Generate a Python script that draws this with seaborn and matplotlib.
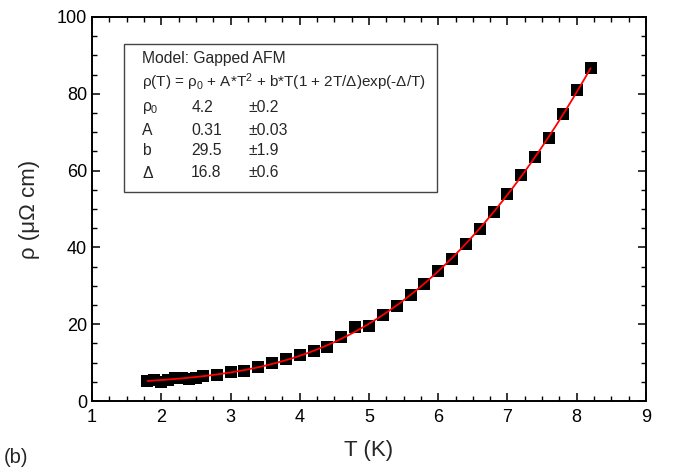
import numpy as np
import pandas as pd
import matplotlib
matplotlib.use("Agg")
import matplotlib.pyplot as plt
from matplotlib.patches import Rectangle
from matplotlib.ticker import MultipleLocator
import seaborn as sns

# Measured resistivity
temperature_K = [1.8, 1.9, 2.0, 2.1, 2.2, 2.3, 2.4, 2.5, 2.6, 2.8, 3.0, 3.2, 3.4,
                 3.6, 3.8, 4.0, 4.2, 4.4, 4.6, 4.8, 5.0, 5.2, 5.4, 5.6, 5.8, 6.0,
                 6.2, 6.4, 6.6, 6.8, 7.0, 7.2, 7.4, 7.6, 7.8, 8.0, 8.2]
resistivity = [5.3, 5.5, 4.9, 5.6, 5.9, 6.0, 5.8, 6.1, 6.4, 6.8, 7.5, 7.7, 8.8,
               9.8, 10.9, 12.0, 13.0, 14.1, 16.6, 19.2, 19.6, 22.4, 24.7, 27.7,
               30.6, 33.8, 37.1, 40.9, 44.8, 49.1, 53.9, 58.9, 63.6, 68.4, 74.7,
               81.0, 86.6]

# Fit parameters of the gapped antiferromagnon model
param_names = [r"$\rho_0$", "A", "b", r"$\Delta$"]
param_values = [4.2, 0.31, 29.5, 16.8]
param_errors = [0.2, 0.03, 1.9, 0.6]
value_labels = ["4.2", "0.31", "29.5", "16.8"]
error_labels = ["\u00b10.2", "\u00b10.03", "\u00b11.9", "\u00b10.6"]

sns.set_theme(style="ticks")
plt.rcParams["font.family"] = ["Liberation Sans", "DejaVu Sans"]
plt.rcParams["mathtext.fontset"] = "custom"
plt.rcParams["mathtext.rm"] = "Liberation Sans"
plt.rcParams["mathtext.it"] = "Liberation Sans"
plt.rcParams["mathtext.bf"] = "Liberation Sans:bold"

df = pd.DataFrame({"T": temperature_K, "rho": resistivity})

rho0, A, b, gap = param_values
t_fit = np.linspace(min(temperature_K), max(temperature_K), 300)
rho_fit = rho0 + A * t_fit**2 + b * t_fit * (1 + 2 * t_fit / gap) * np.exp(-gap / t_fit)
fit_df = pd.DataFrame({"T": t_fit, "rho": rho_fit})

fig = plt.figure(figsize=(6.78, 4.72), dpi=100)
ax = fig.add_axes([0.1357, 0.1504, 0.8171, 0.8136])

sns.scatterplot(data=df, x="T", y="rho", marker="s", s=70, color="black",
                edgecolor="black", linewidth=0, ax=ax, zorder=2)
sns.lineplot(data=fit_df, x="T", y="rho", color="red", linewidth=1.3, ax=ax,
             zorder=3)

ax.set_xlim(1, 9)
ax.set_ylim(0, 100)
ax.xaxis.set_major_locator(MultipleLocator(1))
ax.xaxis.set_minor_locator(MultipleLocator(0.25))
ax.yaxis.set_major_locator(MultipleLocator(20))
ax.yaxis.set_minor_locator(MultipleLocator(5))
ax.tick_params(which="both", direction="in", top=True, right=True,
               labelsize=13, colors="black")
ax.tick_params(which="major", length=6, width=1.1)
ax.tick_params(which="minor", length=3.5, width=1.0)
for sp in ax.spines.values():
    sp.set_linewidth(1.4)
    sp.set_color("black")
ax.tick_params(axis="x", pad=6)

ax.set_xlabel("T (K)", fontsize=16, labelpad=10)
ax.set_ylabel("\u03c1 (\u03bc\u03a9 cm)", fontsize=16, labelpad=12)

# Parameter box
ax.add_patch(Rectangle((0.058, 0.545), 0.565, 0.385, transform=ax.transAxes,
                       facecolor="white", edgecolor="#444444", linewidth=1.0,
                       zorder=4))
fs = 11.0
tx = 0.090
ax.text(tx, 0.892, "Model: Gapped AFM", transform=ax.transAxes, fontsize=fs + 0.3,
        va="center", zorder=5)
ax.text(tx, 0.829, r"$\rho$(T) = $\rho_0$ + A*T$^2$ + b*T(1 + 2T/$\Delta$)exp(-$\Delta$/T)",
        transform=ax.transAxes, fontsize=fs, va="center", zorder=5)
rows_y = [0.764, 0.704, 0.652, 0.595]
for name, val, err, y in zip(param_names, value_labels, error_labels, rows_y):
    ax.text(tx, y, name, transform=ax.transAxes, fontsize=fs + 0.3, va="center", zorder=5)
    ax.text(0.179, y, val, transform=ax.transAxes, fontsize=fs + 0.3, va="center", zorder=5)
    ax.text(0.282, y, err, transform=ax.transAxes, fontsize=fs + 0.3, va="center", zorder=5)

fig.text(0.006, 0.03, "(b)", fontsize=14.5, va="center", ha="left")

fig.savefig("out.png", dpi=100)
